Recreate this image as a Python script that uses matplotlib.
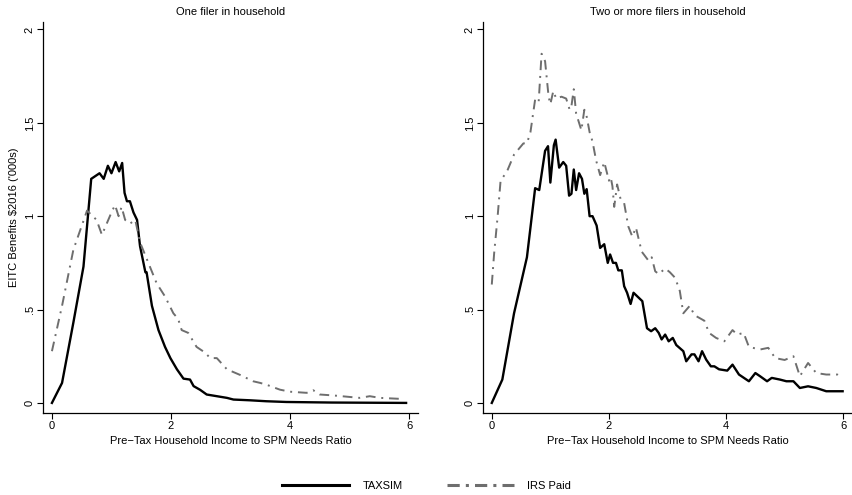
import numpy as np
import matplotlib
matplotlib.use("Agg")
import matplotlib.pyplot as plt
from matplotlib.lines import Line2D

plt.rcParams['font.family'] = ['Liberation Sans', 'DejaVu Sans']

# one filer - TAXSIM
one_tax_x = [0, 0.17, 0.36, 0.53, 0.66, 0.8, 0.87, 0.94, 1.0, 1.07, 1.13, 1.18, 1.22, 1.26, 1.31,
             1.37, 1.43, 1.48, 1.57, 1.59, 1.68, 1.79, 1.9, 1.99, 2.1, 2.21, 2.32, 2.38, 2.49, 2.6,
             2.77, 2.94, 3.05, 3.33, 3.6, 3.94, 4.7, 5.95]
one_tax_y = [0.0, 0.107, 0.43, 0.73, 1.2, 1.23, 1.2, 1.27, 1.23, 1.29, 1.24, 1.285, 1.125, 1.08, 1.08,
             1.02, 0.98, 0.84, 0.70, 0.70, 0.52, 0.39, 0.30, 0.24, 0.18, 0.13, 0.125, 0.09, 0.07, 0.045,
             0.036, 0.027, 0.018, 0.014, 0.009, 0.005, 0.002, 0.0]

# one filer - IRS Paid
one_irs_x = [0, 0.17, 0.36, 0.59, 0.75, 0.84, 0.92, 1.0, 1.06, 1.12, 1.17, 1.23, 1.31, 1.4, 1.48,
             1.62, 1.76, 1.9, 2.04, 2.12, 2.18, 2.29, 2.43, 2.57, 2.66, 2.77, 2.94, 3.16, 3.38, 3.5,
             3.6, 3.83, 4.0, 4.28, 4.39, 4.5, 4.73, 5.17, 5.34, 5.51, 5.9]
one_irs_y = [0.277, 0.52, 0.82, 1.03, 0.98, 0.90, 0.96, 1.02, 1.06, 1.0, 1.05, 0.98, 0.96, 0.98, 0.86,
             0.75, 0.64, 0.57, 0.48, 0.45, 0.39, 0.375, 0.30, 0.27, 0.24, 0.24, 0.18, 0.15, 0.116, 0.107,
             0.098, 0.071, 0.06, 0.054, 0.068, 0.045, 0.04, 0.027, 0.036, 0.027, 0.021]

# two or more filers - TAXSIM
two_tax_x = [0, 0.18, 0.38, 0.6, 0.74, 0.81, 0.91, 0.96, 1.0, 1.06, 1.09, 1.15, 1.22, 1.27, 1.32,
             1.36, 1.4, 1.44, 1.49, 1.54, 1.58, 1.62, 1.67, 1.72, 1.79, 1.85, 1.92, 1.98, 2.02, 2.07,
             2.12, 2.16, 2.22, 2.26, 2.31, 2.37, 2.42, 2.57, 2.65, 2.72, 2.79, 2.85, 2.9, 2.96, 3.02,
             3.09, 3.15, 3.27, 3.32, 3.41, 3.46, 3.53, 3.59, 3.66, 3.74, 3.8, 3.88, 4.02, 4.11, 4.22,
             4.39, 4.5, 4.58, 4.7, 4.78, 4.92, 5.03, 5.15, 5.26, 5.4, 5.54, 5.71, 5.99]
two_tax_y = [0.0, 0.125, 0.48, 0.78, 1.15, 1.14, 1.35, 1.375, 1.18, 1.38, 1.41, 1.26, 1.29, 1.27, 1.11,
             1.12, 1.25, 1.14, 1.23, 1.2, 1.12, 1.145, 1.0, 1.0, 0.95, 0.83, 0.85, 0.75, 0.795, 0.75,
             0.75, 0.71, 0.71, 0.625, 0.59, 0.53, 0.59, 0.545, 0.40, 0.384, 0.40, 0.375, 0.34, 0.366, 0.33,
             0.348, 0.31, 0.277, 0.223, 0.26, 0.26, 0.223, 0.277, 0.232, 0.196, 0.196, 0.18, 0.173, 0.205, 0.152,
             0.116, 0.16, 0.143, 0.116, 0.134, 0.125, 0.116, 0.116, 0.08, 0.089, 0.08, 0.0625, 0.0625]

# two or more filers - IRS Paid
two_irs_x = [0, 0.04, 0.1, 0.15, 0.26, 0.38, 0.46, 0.54, 0.6, 0.66, 0.74, 0.8, 0.85, 0.91, 0.97,
             1.0, 1.05, 1.1, 1.19, 1.27, 1.33, 1.36, 1.4, 1.44, 1.53, 1.58, 1.61, 1.67, 1.72, 1.78,
             1.85, 1.92, 2.0, 2.03, 2.06, 2.09, 2.14, 2.2, 2.26, 2.33, 2.4, 2.46, 2.56, 2.68, 2.73,
             2.79, 2.85, 2.96, 3.04, 3.13, 3.21, 3.27, 3.38, 3.46, 3.63, 3.71, 3.83, 3.97, 4.11, 4.19,
             4.3, 4.39, 4.58, 4.72, 4.84, 5.0, 5.15, 5.26, 5.4, 5.54, 5.71, 5.9, 5.99]
two_irs_y = [0.634, 0.80, 1.0, 1.19, 1.24, 1.33, 1.36, 1.39, 1.39, 1.45, 1.625, 1.61, 1.87, 1.83, 1.64,
             1.6, 1.67, 1.63, 1.64, 1.63, 1.57, 1.59, 1.68, 1.55, 1.46, 1.57, 1.55, 1.45, 1.40, 1.30,
             1.22, 1.29, 1.19, 1.21, 1.16, 1.05, 1.17, 1.09, 1.07, 0.946, 0.89, 0.94, 0.81, 0.76, 0.78,
             0.705, 0.69, 0.72, 0.70, 0.67, 0.6, 0.48, 0.52, 0.47, 0.44, 0.375, 0.348, 0.33, 0.39, 0.366,
             0.375, 0.30, 0.286, 0.295, 0.24, 0.23, 0.25, 0.143, 0.214, 0.16, 0.152, 0.152, 0.134]

titles = ['One filer in household', 'Two or more filers in household']
xlabel = 'Pre\u2212Tax Household Income to SPM Needs Ratio'
ylabel = "EITC Benefits \\$2016 ('000s)"
yticks = [0, 0.5, 1, 1.5, 2]
ytick_labels = ['0', '.5', '1', '1.5', '2']
xticks = [0, 2, 4, 6]

tax_color = 'black'
irs_color = '#6e6e6e'
irs_dash = (5, 3, 1, 3)

W, H = 853, 495
fig = plt.figure(figsize=(W / 100, H / 100), dpi=100)
ax1 = fig.add_axes([43 / W, 82 / H, (418 - 43) / W, (413 - 22) / H])
ax2 = fig.add_axes([483 / W, 82 / H, (852 - 483) / W, (413 - 22) / H])

panels = [(ax1, one_tax_x, one_tax_y, one_irs_x, one_irs_y),
          (ax2, two_tax_x, two_tax_y, two_irs_x, two_irs_y)]

for i, (ax, tx, ty, ix, iy) in enumerate(panels):
    ax.plot(tx, ty, color=tax_color, lw=1.7)
    ax.plot(ix, iy, color=irs_color, lw=1.4, dashes=irs_dash)
    ax.set_xlim(-0.15, 6.15)
    ax.set_ylim(-0.054, 2.04)
    ax.spines['top'].set_visible(False)
    ax.spines['right'].set_visible(False)
    ax.spines['left'].set_linewidth(0.9)
    ax.spines['bottom'].set_linewidth(0.9)
    ax.set_xticks(xticks)
    ax.set_xticklabels([str(t) for t in xticks])
    ax.set_yticks(yticks)
    ax.set_yticklabels(ytick_labels)
    ax.tick_params(direction='out', length=4, width=0.8, labelsize=8, pad=2)
    for lab in ax.get_yticklabels():
        lab.set_rotation(90)
        lab.set_va('center')
    ax.set_title(titles[i], fontsize=8, pad=5)
    ax.set_xlabel(xlabel, fontsize=8, labelpad=3)

ax1.set_ylabel(ylabel, fontsize=8, labelpad=4)

handles = [Line2D([], [], color=tax_color, lw=2.2),
           Line2D([], [], color=irs_color, lw=2.2, dashes=(4, 2, 1, 2))]
fig.legend(handles, ['TAXSIM', 'IRS Paid'], loc='center', bbox_to_anchor=(0.5, 9 / H),
           ncol=2, frameon=False, fontsize=8, handlelength=6, columnspacing=4, handletextpad=1.2)

fig.savefig('out.png', dpi=100)
